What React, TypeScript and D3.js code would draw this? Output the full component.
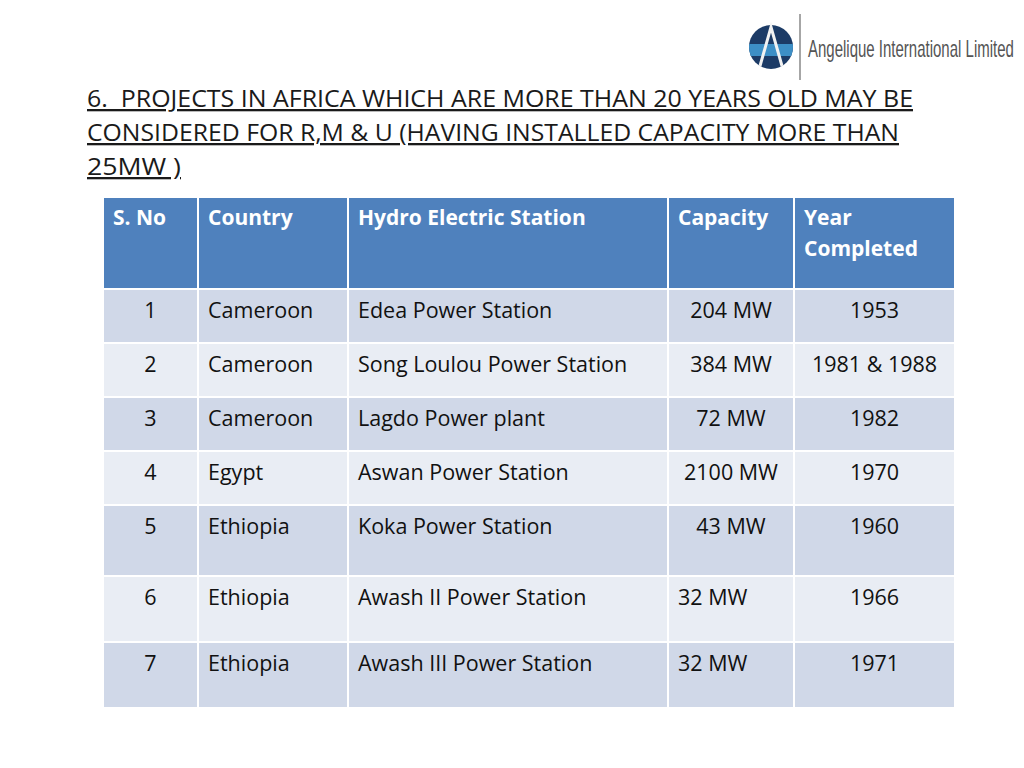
import React, { useEffect, useRef } from 'react';
import * as d3 from 'd3';

const headers = ['S. No', 'Country', 'Hydro Electric Station', 'Capacity', 'Year|Completed'];
const serials = ['1', '2', '3', '4', '5', '6', '7'];
const countries = ['Cameroon', 'Cameroon', 'Cameroon', 'Egypt', 'Ethiopia', 'Ethiopia', 'Ethiopia'];
const stations = [
  'Edea Power Station',
  'Song Loulou Power Station',
  'Lagdo Power plant',
  'Aswan Power Station',
  'Koka Power Station',
  'Awash II Power Station',
  'Awash III Power Station',
];
const capacities = ['204 MW', '384 MW', '72 MW', '2100 MW', '43 MW', '32 MW', '32 MW'];
const years = ['1953', '1981 & 1988', '1982', '1970', '1960', '1966', '1971'];
const titleLines = [
  '6.  PROJECTS IN AFRICA WHICH ARE MORE THAN 20 YEARS OLD MAY BE',
  'CONSIDERED FOR R,M & U (HAVING INSTALLED CAPACITY MORE THAN',
  '25MW )',
];

const colEdges = [103, 198, 348, 668, 794, 955];
const rowEdges = [197, 289, 343, 397, 451, 505, 576, 642, 708];
const FONT = "'Open Sans', 'Noto Sans', sans-serif";

export default function App() {
  const ref = useRef<SVGSVGElement>(null);

  useEffect(() => {
    const svg = d3.select(ref.current);
    svg.selectAll('*').remove();

    // logo
    const logo = svg.append('g');
    logo.append('circle').attr('cx', 771).attr('cy', 47).attr('r', 22).attr('fill', '#1c3b66');
    logo.append('clipPath').attr('id', 'lc').append('circle').attr('cx', 771).attr('cy', 47).attr('r', 22);
    logo.append('rect').attr('x', 749).attr('y', 44).attr('width', 44).attr('height', 12)
      .attr('fill', '#3d8fc6').attr('clip-path', 'url(#lc)');
    logo.append('path').attr('d', 'M760,66 L771,27 L782,66').attr('fill', 'none')
      .attr('stroke', '#f2f2f2').attr('stroke-width', 3);
    logo.append('line').attr('x1', 800).attr('x2', 800).attr('y1', 14).attr('y2', 80)
      .attr('stroke', '#888').attr('stroke-width', 1.5);
    const brand = logo.append('g');
    const brandText = brand.append('text').attr('x', 0).attr('y', 0).attr('fill', '#555')
      .attr('font-family', "'Liberation Sans Narrow', 'Liberation Sans', sans-serif").attr('font-size', 23)
      .text('Angelique International Limited');
    const natural = (brandText.node() as SVGTextElement).getComputedTextLength() || 206;
    brand.attr('transform', `translate(808,57) scale(${206 / natural},1)`);

    // title
    const title = svg.append('g');
    titleLines.forEach((t, i) => {
      title.append('text').attr('x', 87).attr('y', 107 + i * 34)
        .attr('font-family', FONT).attr('font-size', 23).attr('fill', '#1a1a1a')
        .attr('text-decoration', 'underline').style('white-space', 'pre')
        .attr('textLength', [826, 812, 94][i]).attr('lengthAdjust', 'spacingAndGlyphs')
        .text(t);
    });

    const x = (i: number) => colEdges[i];
    const y = (i: number) => rowEdges[i];
    const g = svg.append('g');

    // cells
    for (let r = 0; r < rowEdges.length - 1; r++) {
      const fill = r === 0 ? '#4f81bd' : r % 2 === 1 ? '#d0d8e8' : '#e9edf4';
      for (let c = 0; c < colEdges.length - 1; c++) {
        g.append('rect').attr('x', x(c)).attr('y', y(r))
          .attr('width', x(c + 1) - x(c)).attr('height', y(r + 1) - y(r))
          .attr('fill', fill).attr('stroke', '#fff').attr('stroke-width', 2);
      }
    }

    // header
    headers.forEach((h, c) => {
      h.split('|').forEach((line, k) => {
        g.append('text').attr('x', x(c) + 10).attr('y', y(0) + 28 + k * 31)
          .attr('font-family', FONT).attr('font-size', 21).attr('font-weight', 'bold')
          .attr('fill', '#fff').text(line);
      });
    });

    const columns = [serials, countries, stations, capacities, years];
    serials.forEach((_, r) => {
      const top = y(r + 1) + 29;
      columns.forEach((col, c) => {
        let anchor = 'start';
        let tx = x(c) + 10;
        if (c === 0 || c === 4 || (c === 3 && r < 5)) {
          anchor = 'middle';
          tx = (x(c) + x(c + 1)) / 2;
        }
        g.append('text').attr('x', tx).attr('y', top).attr('text-anchor', anchor)
          .attr('font-family', FONT).attr('font-size', 21.5).attr('fill', '#111')
          .text(col[r]);
      });
    });
  }, []);

  return (
    <svg ref={ref} width={1024} height={768} style={{ position: 'absolute', left: 0, top: 0, background: '#fff' }} />
  );
}
